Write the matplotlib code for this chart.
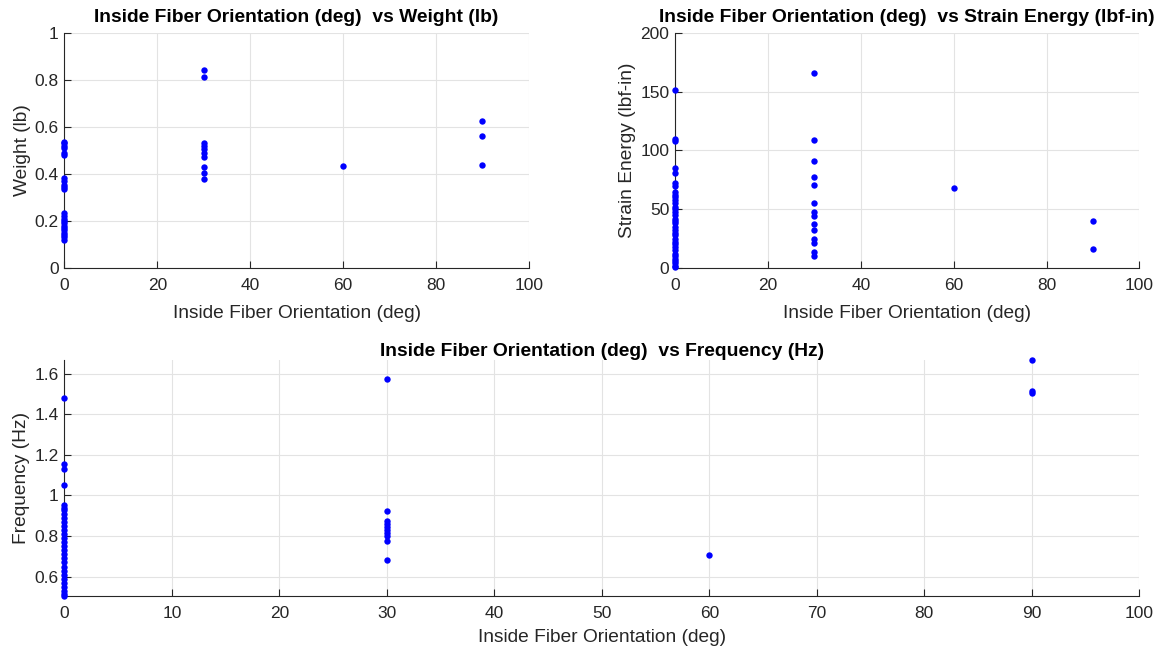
import matplotlib
matplotlib.use("Agg")
import matplotlib.pyplot as plt

plt.rcParams["font.family"] = ["Liberation Sans", "DejaVu Sans"]

# Design results grouped by inside fiber orientation (deg)
weight_0 = [0.537, 0.53, 0.52, 0.51, 0.49, 0.48, 0.383, 0.37, 0.355, 0.345,
            0.335, 0.234, 0.22, 0.21, 0.2, 0.19, 0.18, 0.17, 0.16, 0.15,
            0.14, 0.13, 0.12]
weight_30 = [0.843, 0.811, 0.533, 0.52, 0.505, 0.49, 0.474, 0.431, 0.405, 0.379]
weight_60 = [0.435]
weight_90 = [0.624, 0.563, 0.437]

strain_0 = [151.5, 110, 108, 85, 81, 72, 70, 65, 62, 60, 58, 55, 52, 50, 48,
            45, 42, 40, 38, 35, 32, 30, 28, 25, 22, 20, 18, 15, 12, 10, 8, 6,
            4, 2, 1]
strain_30 = [166, 109, 91, 77, 71, 55, 48, 44, 37, 32, 25, 21, 14, 10]
strain_60 = [68]
strain_90 = [40, 16]

freq_0 = [1.479, 1.157, 1.128, 1.05, 0.955, 0.94, 0.93, 0.91, 0.89, 0.87,
          0.85, 0.83, 0.81, 0.79, 0.77, 0.75, 0.73, 0.71, 0.69, 0.67, 0.65,
          0.63, 0.61, 0.59, 0.57, 0.55, 0.53, 0.515, 0.505]
freq_30 = [1.574, 0.924, 0.875, 0.86, 0.845, 0.83, 0.815, 0.80, 0.777, 0.683]
freq_60 = [0.705]
freq_90 = [1.667, 1.513, 1.505]

angles = [0, 30, 60, 90]
xlabel = "Inside Fiber Orientation (deg)"


def scatter_groups(ax, groups):
    for angle, vals in zip(angles, groups):
        ax.plot([angle] * len(vals), vals, "o", color="#0000ff",
                markersize=4.6, markeredgewidth=0, clip_on=False, zorder=3)


def style_axes(ax):
    ax.spines["top"].set_visible(False)
    ax.spines["right"].set_visible(False)
    for side in ("left", "bottom"):
        ax.spines[side].set_color("#262626")
        ax.spines[side].set_linewidth(0.8)
    ax.tick_params(direction="in", length=5, width=0.8, colors="#262626",
                   labelsize=12.5, labelcolor="#262626")
    ax.tick_params(axis="x", pad=7)
    ax.tick_params(axis="y", pad=4)
    ax.grid(True, color="#e3e3e3", linewidth=0.8)
    ax.set_axisbelow(True)
    ax.set_xlim(0, 100)


def label_axes(ax, ylabel, title, title_pad, xlabel_pad):
    ax.set_xlabel(xlabel, fontsize=13.8, color="#262626", labelpad=xlabel_pad)
    ax.set_ylabel(ylabel, fontsize=13.8, color="#262626", labelpad=3)
    ax.set_title(title, fontsize=13.9, fontweight="bold", pad=title_pad)


fig = plt.figure(figsize=(11.64, 6.52), dpi=100)

ax1 = fig.add_axes([0.0553, 0.589, 0.399, 0.3605])
scatter_groups(ax1, [weight_0, weight_30, weight_60, weight_90])
style_axes(ax1)
ax1.set_ylim(0, 1)
ax1.set_xticks(range(0, 101, 20))
ax1.set_yticks([0, 0.2, 0.4, 0.6, 0.8, 1])
ax1.set_yticklabels(["0", "0.2", "0.4", "0.6", "0.8", "1"])
label_axes(ax1, "Weight (lb)", "Inside Fiber Orientation (deg)  vs Weight (lb)",
           8, 9)

ax2 = fig.add_axes([0.5799, 0.589, 0.399, 0.3605])
scatter_groups(ax2, [strain_0, strain_30, strain_60, strain_90])
style_axes(ax2)
ax2.set_ylim(0, 200)
ax2.set_xticks(range(0, 101, 20))
ax2.set_yticks(range(0, 201, 50))
label_axes(ax2, "Strain Energy (lbf-in)",
           "Inside Fiber Orientation (deg)  vs Strain Energy (lbf-in)", 8, 9)

ax3 = fig.add_axes([0.0553, 0.0859, 0.9235, 0.362])
scatter_groups(ax3, [freq_0, freq_30, freq_60, freq_90])
style_axes(ax3)
all_freq = freq_0 + freq_30 + freq_60 + freq_90
ax3.set_ylim(min(all_freq), max(all_freq))
ax3.set_xticks(range(0, 101, 10))
ax3.set_yticks([0.6, 0.8, 1.0, 1.2, 1.4, 1.6])
ax3.set_yticklabels(["0.6", "0.8", "1", "1.2", "1.4", "1.6"])
label_axes(ax3, "Frequency (Hz)",
           "Inside Fiber Orientation (deg)  vs Frequency (Hz)", 3, 6)

fig.savefig("out.png", dpi=100)
